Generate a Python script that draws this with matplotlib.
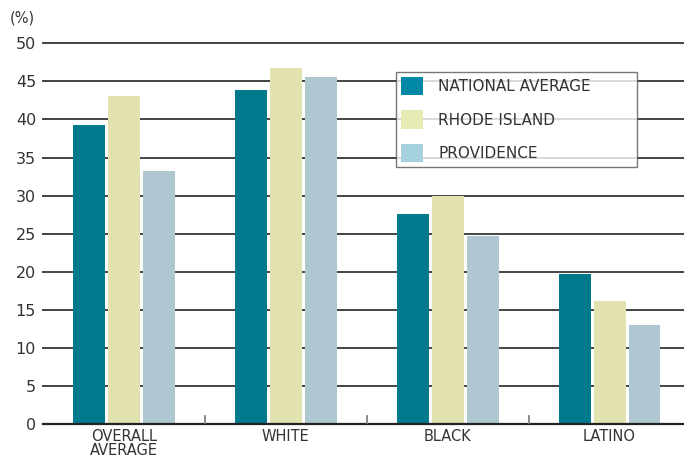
import matplotlib.pyplot as plt
import numpy as np
from matplotlib.patches import Patch

categories = ['OVERALL\nAVERAGE', 'WHITE', 'BLACK', 'LATINO']
series_names = ['NATIONAL AVERAGE', 'RHODE ISLAND', 'PROVIDENCE']
national = [39.3, 43.9, 27.6, 19.7]
rhode_island = [43.1, 46.8, 29.9, 16.2]
providence = [33.2, 45.6, 24.7, 13.0]
y_ticks = [0, 5, 10, 15, 20, 25, 30, 35, 40, 45, 50]

bar_colors = ['#00798c', '#e1e2ae', '#aec7d1']
legend_colors = ['#0089a6', '#e8eab5', '#a6d2e0']
text_color = '#333333'

plt.rcParams['font.family'] = ['DejaVu Sans']

fig = plt.figure(figsize=(6.84, 4.59), dpi=100)
ax = fig.add_axes([43 / 684, 1 - 424.3 / 459, (684 - 43) / 684, 381 / 459])

x = np.arange(len(categories))
width = 0.1975
step = 0.216
for i, vals in enumerate([national, rhode_island, providence]):
    ax.bar(x + (i - 1) * step, vals, width, color=bar_colors[i], zorder=3)

ax.set_ylim(0, 50)
ax.set_xlim(-0.5, 3.46)

# horizontal rules
for yv in y_ticks[1:]:
    ax.axhline(yv, color='#444444', lw=1.4, zorder=1, clip_on=False)
ax.axhline(0, color='#222222', lw=1.6, zorder=4, clip_on=False)

for s in ax.spines.values():
    s.set_visible(False)

ax.set_yticks(y_ticks)
ax.set_yticklabels([str(v) for v in y_ticks], fontsize=11.5, color=text_color)
ax.tick_params(axis='y', length=0, pad=5)

ax.set_xticks(x)
ax.set_xticklabels(categories, fontsize=10.5, color=text_color, linespacing=0.9)
ax.tick_params(axis='x', length=0, pad=3.5)

# small separators between groups
for b in [0.5, 1.5, 2.5]:
    ax.plot([b, b], [0, 1.1], color='#777777', lw=1.2, zorder=5)

fig.text(10 / 684, 1 - 18 / 459, '(%)', fontsize=10.5, color=text_color, va='center')

handles = [Patch(facecolor=c, edgecolor='none') for c in legend_colors]
x0 = (396 - 43) / 641
x1 = (637 - 43) / 641
ytop = 1 - (72 - 43.3) / 381
leg = ax.legend(handles, series_names, loc='upper left', mode='expand',
                bbox_to_anchor=(x0, ytop - 0.3, x1 - x0, 0.3),
                frameon=True, fancybox=False, edgecolor='#555555',
                fontsize=11, handlelength=1.45, handleheight=1.45,
                handletextpad=1.0, labelspacing=1.03, borderpad=0.3,
                borderaxespad=0, labelcolor=text_color)
leg.get_frame().set_linewidth(1.0)
leg.set_zorder(6)

fig.savefig('out.png', dpi=100)
